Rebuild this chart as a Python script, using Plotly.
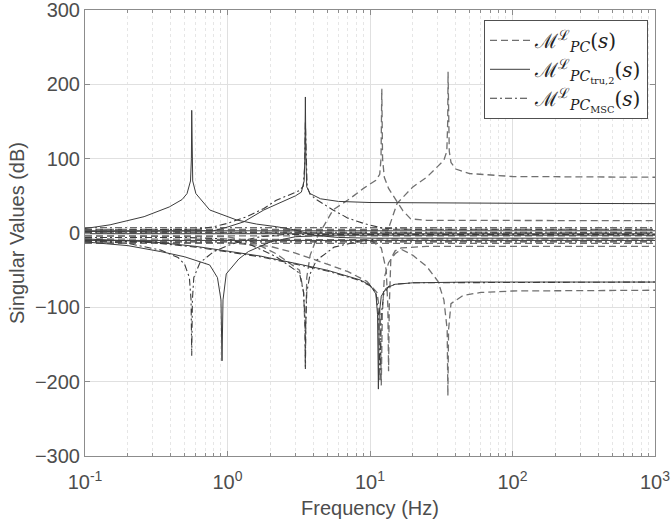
import plotly.graph_objects as go

# ---------------- data (frequency in Hz, singular values in dB) ----------------
# Full model  M_PC  (dashed)
pc_f1 = [0.1, 1, 1.5, 2.2, 3.2, 3.42, 3.5, 3.52, 3.54, 3.6, 3.8, 4.2, 5, 5.5, 7.2, 9, 11, 11.7, 11.95, 12.1, 12.25, 12.6, 13.5, 15.5, 17, 19.3, 25, 1000]
pc_v1 = [-4, -5, -12, -28, -50, -80, -130, -180, -130, -60, -30, -8, 18, 31, 46, 60, 71, 79, 100, 194, 100, 75, 60, 42, 30, 19, 17, 16.6]
pc_f2 = [0.1, 1, 5, 10, 12.5, 13.3, 14, 15.5, 20, 25, 30, 33, 34.6, 35.1, 35.3, 35.5, 36, 37, 40, 50, 100, 1000]
pc_v2 = [2, 2, 2, 2, 2, 3, 15, 40, 62, 75, 90, 98, 110, 150, 217, 150, 110, 95, 86, 80, 76, 75]
pc_f3 = [0.1, 5, 10, 12, 13, 13.35, 13.5, 13.65, 14, 15, 16.6, 25, 1000]
pc_v3 = [-8, -8, -9, -20, -50, -100, -186, -100, -35, -24, -20, -18, -18]
pc_f4 = [0.1, 1, 2, 3, 4.7, 7, 9.5, 11.2, 11.8, 12.0, 12.2, 12.6, 13.5, 15, 16.6, 20, 25, 30, 33, 34.8, 35.2, 35.6, 37, 45, 60, 100, 1000]
pc_v4 = [-12, -13, -18, -27, -40, -52, -65, -80, -110, -205, -110, -60, -40, -28, -22, -30, -45, -65, -90, -130, -219, -130, -95, -84, -80, -78, -77]
band_f = [0.1, 0.5, 3.5, 12, 100, 1000]
pc_band = [[5, 5, 6, 5, 5, 5], [0, 0, 1, 0, 0, 0], [-4, -4, -5, -4, -4, -4], [-14, -14, -13, -14, -14, -14]]

# Truncated model  M_PC_tru,2  (solid)
tr_f1 = [0.1, 0.15, 0.26, 0.39, 0.48, 0.52, 0.55, 0.558, 0.561, 0.564, 0.57, 0.6, 0.75, 1.16, 1.6, 2.2, 3, 4, 6, 10, 1000]
tr_v1 = [6, 11, 22, 35, 45, 53, 70, 100, 165, 100, 70, 53, 31, 17.5, 12, 8.5, 4, -3, -6, -7, -7]
tr_f2 = [0.1, 0.5, 0.8, 1.0, 1.3, 1.8, 2.4, 3.0, 3.3, 3.45, 3.49, 3.52, 3.55, 3.6, 3.8, 4.5, 6, 10, 100, 1000]
tr_v2 = [2, 2, 3, 8, 15, 31, 42, 50, 55, 70, 100, 183, 100, 62, 53, 46, 42.5, 41, 40, 39.5]
tr_f3 = [0.1, 0.2, 0.34, 0.5, 0.75, 0.85, 0.9, 0.915, 0.93, 0.98, 1.2, 1.4, 2, 3, 5, 10, 1000]
tr_v3 = [-12, -17, -25, -32, -43, -60, -90, -172, -90, -55, -35, -25, -12, -5, -3, -3, -3]
tr_f4 = [0.1, 0.3, 0.6, 1, 1.7, 3.2, 5, 8.5, 10, 11, 11.3, 11.45, 11.6, 12, 13, 15, 20, 50, 1000]
tr_v4 = [-8, -12, -18, -24, -31, -42, -50, -63, -70, -82, -110, -210, -110, -85, -74, -69, -67, -66, -66]
tr_band = [[3, 3, 3, 3, 3, 3], [-1, -1, -2, -1, -1, -1], [-10, -10, -10, -9, -10, -10]]

# Reduced model  M_PC_MSC  (dash-dot)
ms_f1 = [0.1, 0.2, 0.34, 0.45, 0.5, 0.54, 0.555, 0.561, 0.567, 0.58, 0.64, 0.8, 1, 1.3, 1.7, 2.5, 10, 1000]
ms_v1 = [-10, -14, -23, -33, -42, -60, -90, -165, -90, -60, -40, -25, -17, -10, -5, -2, -2, -2]
ms_f2 = [0.1, 0.4, 0.6, 0.8, 1.0, 1.37, 1.8, 2.2, 2.8, 3.2, 3.4, 3.48, 3.52, 3.56, 3.62, 3.8, 4.2, 5.5, 7, 9, 11, 12.5, 20, 1000]
ms_v2 = [4, 4, 5, 8.5, 13, 22, 33, 44, 52, 57, 63, 90, 150, 90, 62, 52, 45, 31, 20, 13, 9, 6, 5, 5]
ms_f3 = [0.1, 0.5, 1, 1.5, 2.2, 3.2, 3.42, 3.5, 3.52, 3.54, 3.6, 3.8, 4.2, 5.6, 8, 11, 1000]
ms_v3 = [-6, -6, -8, -17, -32, -54, -80, -120, -183, -120, -80, -55, -37, -19, -12, -8, -8]
ms_f4 = [0.1, 0.3, 0.6, 1, 1.7, 3.2, 5, 8.5, 10, 11, 11.5, 11.75, 12, 12.5, 13.5, 15, 20, 1000]
ms_v4 = [-9, -13, -19, -25, -32, -43, -51, -64, -71, -80, -110, -200, -110, -82, -72, -69, -67, -66]
ms_band = [[7, 7, 7, 6, 7, 7], [1, 1, 2, 1, 1, 1], [-12, -12, -11, -12, -12, -12]]

x_ticks = [0.1, 1, 10, 100, 1000]
x_tick_text = ["10<sup>-1</sup>", "10<sup>0</sup>", "10<sup>1</sup>", "10<sup>2</sup>", "10<sup>3</sup>"]
x_minor = [m * d for d in (0.1, 1, 10, 100) for m in range(2, 10)]
y_ticks = [-300, -200, -100, 0, 100, 200, 300]

names = ["ℳ<sup>ℒ</sup><sub><i>PC</i></sub>(<i>s</i>)",
         "ℳ<sup>ℒ</sup><sub><i>PC</i><sub>tru,2</sub></sub>(<i>s</i>)",
         "ℳ<sup>ℒ</sup><sub><i>PC</i><sub>MSC</sub></sub>(<i>s</i>)"]

# ---------------- figure ----------------
fig = go.Figure()
st_pc = dict(color="#707070", width=1.3, dash="7px,4px")
st_tr = dict(color="#3c3c3c", width=1.0)
st_ms = dict(color="#3c3c3c", width=1.1, dash="7px,3px,2px,3px")

def add(xs, ys, st, name, grp, show):
    fig.add_trace(go.Scatter(x=xs, y=ys, mode="lines", line=st, name=name,
                             legendgroup=grp, showlegend=show, hoverinfo="skip"))

pc_curves = [(pc_f1, pc_v1), (pc_f2, pc_v2), (pc_f3, pc_v3), (pc_f4, pc_v4)] + [(band_f, b) for b in pc_band]
tr_curves = [(tr_f1, tr_v1), (tr_f2, tr_v2), (tr_f3, tr_v3), (tr_f4, tr_v4)] + [(band_f, b) for b in tr_band]
ms_curves = [(ms_f1, ms_v1), (ms_f2, ms_v2), (ms_f3, ms_v3), (ms_f4, ms_v4)] + [(band_f, b) for b in ms_band]

for i, (xs, ys) in enumerate(pc_curves):
    add(xs, ys, st_pc, names[0], "pc", i == 0)
for i, (xs, ys) in enumerate(tr_curves):
    add(xs, ys, st_tr, names[1], "tr", i == 0)
for i, (xs, ys) in enumerate(ms_curves):
    add(xs, ys, st_ms, names[2], "ms", i == 0)

axis_font = dict(family="Liberation Sans, Arial, sans-serif", size=20, color="#4d4d4d")
fig.update_layout(
    width=671, height=526,
    margin=dict(l=85, r=16, t=10, b=70),
    plot_bgcolor="white", paper_bgcolor="white",
    showlegend=True,
    legend=dict(x=0.70, y=0.978, xanchor="left", yanchor="top",
                bgcolor="white", bordercolor="#505050", borderwidth=1,
                font=dict(family="DejaVu Serif, serif", size=20, color="#222"),
                tracegroupgap=0, itemwidth=40),
    xaxis=dict(type="log", range=[-1, 3], tickvals=x_ticks, ticktext=x_tick_text, automargin=False,
               showline=True, linecolor="#8c8c8c", mirror="ticks", ticks="inside", ticklen=5,
               tickcolor="#8c8c8c", showgrid=True, gridcolor="#e0e0e0", gridwidth=1,
               minor=dict(tickvals=x_minor, ticks="inside", ticklen=3, tickcolor="#8c8c8c",
                          showgrid=True, gridcolor="#e6e6e6", griddash="dot", gridwidth=1),
               tickfont=axis_font, zeroline=False, ticklabeloverflow="allow", ticklabelstandoff=8,
               title=dict(text="Frequency (Hz)", font=axis_font, standoff=8)),
    yaxis=dict(range=[-300, 300], tickvals=y_ticks, automargin=False,
               showline=True, linecolor="#8c8c8c", mirror="ticks", ticks="inside", ticklen=5,
               tickcolor="#8c8c8c", showgrid=True, gridcolor="#e0e0e0", gridwidth=1,
               tickfont=axis_font, zeroline=False, ticklabeloverflow="allow",
               title=dict(text="Singular Values (dB)", font=axis_font, standoff=4)),
)
fig.write_html("out.html", config={"displayModeBar": False},
               post_script="document.body.style.margin='0px';")
